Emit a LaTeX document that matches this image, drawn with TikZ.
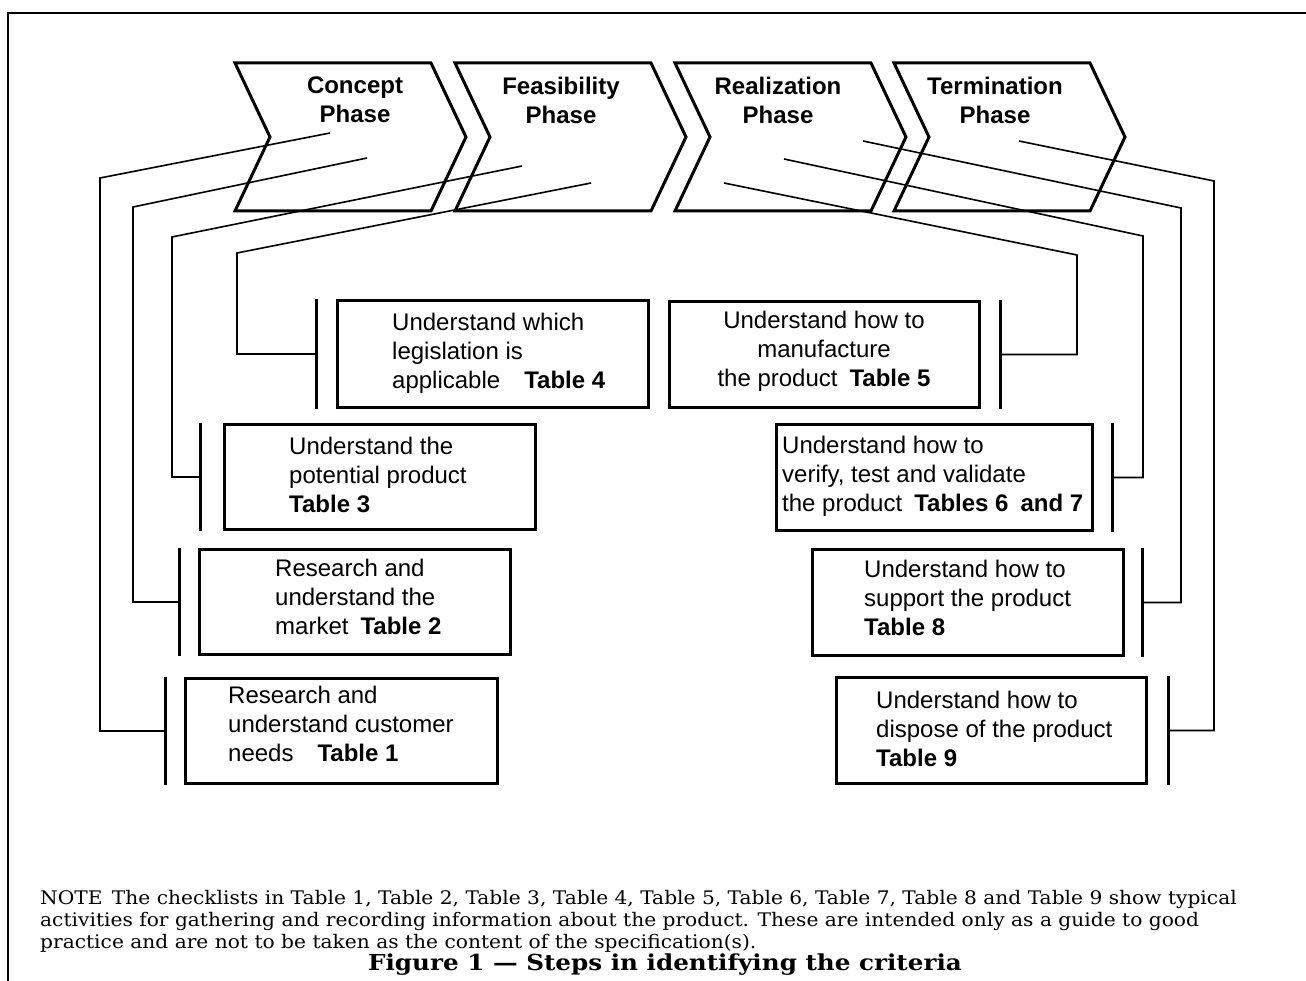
\documentclass[tikz,border=0pt]{standalone}
\usepackage{fontspec}
\setmainfont{Liberation Sans}
\newfontfamily\notefont[FakeStretch=1.08]{DejaVu Serif}
\newfontfamily\capfont[FakeStretch=1.12]{DejaVu Serif}
\begin{document}
\begin{tikzpicture}[x=1pt,y=-1pt,
  frame/.style={line width=2pt},
  chev/.style={line width=3pt, line join=miter},
  phase/.style={font=\bfseries\fontsize{24}{29}\selectfont, align=center, inner sep=0, anchor=north},
  box/.style={draw, line width=3pt, anchor=north west, inner sep=0},
  txt/.style={font=\fontsize{24}{29}\selectfont, align=left, anchor=north west, inner sep=0},
  bar/.style={line width=3pt},
  link/.style={line width=1.6pt},
  note/.style={font=\notefont\fontsize{18.7}{22}\selectfont, anchor=base west, inner sep=0},
  caption/.style={font=\capfont\bfseries\fontsize{22}{26}\selectfont, anchor=base, inner sep=0}]
\useasboundingbox (0,0) rectangle (1306,981);

% page frame
\draw[frame] (8,981) -- (8,13) -- (1306,13);

% phase chevrons
\foreach \x in {235,455,675,894}
  \draw[chev] (\x,63) -- ++(196,0) -- ++(35,74) -- ++(-35,74) -- ++(-196,0) -- ++(35,-74) -- cycle;
\node[phase] (concept)     at (355,77) {Concept\\Phase};
\node[phase] (feasibility) at (561,77) {Feasibility\\Phase};
\node[phase] (realization) at (778,77) {Realization\\Phase};
\node[phase] (termination) at (995,77) {Termination\\Phase};

% activity boxes, left column
\node[box, minimum width=312, minimum height=105] (b1) at (184,677) {};
\node[box, minimum width=311, minimum height=105] (b2) at (198,548) {};
\node[box, minimum width=311, minimum height=105] (b3) at (223,423) {};
\node[box, minimum width=311, minimum height=107] (b4) at (336,299) {};
% activity boxes, right column
\node[box, minimum width=310, minimum height=106] (b5) at (668,300) {};
\node[box, minimum width=316, minimum height=106] (b6) at (775,423) {};
\node[box, minimum width=311, minimum height=106] (b7) at (811,548) {};
\node[box, minimum width=310, minimum height=106] (b8) at (835,676) {};

% box texts
\node[txt] (t1) at (228,686) {Research and\\understand customer\\needs\quad\textbf{Table 1}};
\node[txt] (t2) at (275,559) {Research and\\understand the\\market\enspace\textbf{Table 2}};
\node[txt] (t3) at (289,437) {Understand the\\potential product\\\textbf{Table 3}};
\node[txt] (t4) at (392,313) {Understand which\\legislation is\\applicable\quad\textbf{Table 4}};
\node[txt, align=center, anchor=north] (t5) at (824,311) {Understand how to\\manufacture\\the product\enspace\textbf{Table 5}};
\node[txt] (t6) at (782,436) {Understand how to\\verify, test and validate\\the product\enspace\textbf{Tables 6\enspace and 7}};
\node[txt] (t7) at (864,560) {Understand how to\\support the product\\\textbf{Table 8}};
\node[txt] (t8) at (876,691) {Understand how to\\dispose of the product\\\textbf{Table 9}};

% brackets beside the boxes
\coordinate (k1) at ([xshift=-19]b1.west);
\coordinate (k2) at ([xshift=-19]b2.west);
\coordinate (k3) at ([xshift=-23]b3.west);
\coordinate (k4) at ([xshift=-20]b4.west);
\coordinate (k5) at ([xshift=19]b5.east);
\coordinate (k6) at ([xshift=18]b6.east);
\coordinate (k7) at ([xshift=17]b7.east);
\coordinate (k8) at ([xshift=20]b8.east);
\foreach \b/\k in {b1/k1,b2/k2,b3/k3,b4/k4,b5/k5,b6/k6,b7/k7,b8/k8}
  \draw[bar] (\b.north -| \k) -- (\b.south -| \k);

% connector origins inside the chevrons and their bends
\coordinate (s1) at (330,133); \coordinate (e1) at (100,178);
\coordinate (s2) at (367,158); \coordinate (e2) at (133,207);
\coordinate (s3) at (522,166); \coordinate (e3) at (172,237);
\coordinate (s4) at (591,183); \coordinate (e4) at (237,253);
\coordinate (s5) at (724,183); \coordinate (e5) at (1077,255);
\coordinate (s6) at (784,159); \coordinate (e6) at (1143,236);
\coordinate (s7) at (863,141); \coordinate (e7) at (1181,208);
\coordinate (s8) at (1019,141); \coordinate (e8) at (1214,181);
\foreach \i in {1,...,8}
  \draw[link] (s\i) -- (e\i) |- (k\i);

% note and caption
\node[note] (n1) at (40,904) {NOTE\enspace The checklists in Table 1, Table 2, Table 3, Table 4, Table 5, Table 6, Table 7, Table 8 and Table 9 show typical};
\node[note] (n2) at (40,926) {activities for gathering and recording information about the product. These are intended only as a guide to good};
\node[note] (n3) at (40,948) {practice and are not to be taken as the content of the specification(s).};
\node[caption] (cap) at (665,970) {Figure 1 \textemdash{} Steps in identifying the criteria};
\end{tikzpicture}
\end{document}
